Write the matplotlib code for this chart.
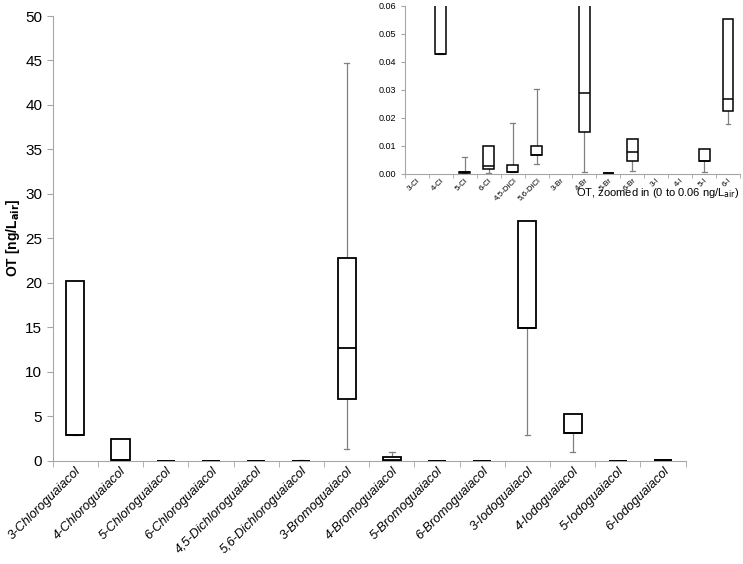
import matplotlib
matplotlib.use("Agg")
import matplotlib.pyplot as plt
import numpy as np

plt.rcParams['font.family'] = ['Liberation Sans', 'DejaVu Sans']

# compound names (main axis) and abbreviations (inset)
names = ['3-Chloroguaiacol', '4-Chloroguaiacol', '5-Chloroguaiacol', '6-Chloroguaiacol',
         '4,5-Dichloroguaiacol', '5,6-Dichloroguaiacol', '3-Bromoguaiacol', '4-Bromoguaiacol',
         '5-Bromoguaiacol', '6-Bromoguaiacol', '3-Iodoguaiacol', '4-Iodoguaiacol',
         '5-Iodoguaiacol', '6-Iodoguaiacol']
short = ['3-Cl', '4-Cl', '5-Cl', '6-Cl', '4,5-DiCl', '5,6-DiCl', '3-Br', '4-Br',
         '5-Br', '6-Br', '3-I', '4-I', '5-I', '6-I']

# OT in ng/L air
whis_lo = [2.9, 0.043, 0.0002, 0.0003, 0.0006, 0.0035, 1.35, 0.0008, 0.0002, 0.001, 2.9, 1.0, 0.0006, 0.0179]
q1 = [2.9, 0.043, 0.0003, 0.0017, 0.0006, 0.0068, 6.97, 0.015, 0.0003, 0.0045, 14.9, 3.1, 0.0046, 0.0225]
med = [2.9, 0.043, 0.0006, 0.0029, 0.0006, 0.0068, 12.7, 0.0288, 0.0003, 0.008, 14.9, 3.1, 0.0046, 0.0268]
q3 = [20.2, 2.47, 0.0008, 0.0101, 0.0031, 0.0101, 22.75, 0.45, 0.0004, 0.0125, 26.9, 5.25, 0.0088, 0.0552]
whis_hi = [20.2, 2.47, 0.0062, 0.0101, 0.0181, 0.0302, 44.7, 0.98, 0.0004, 0.0125, 26.9, 5.25, 0.0088, 0.0552]

stats = []
for i in range(len(names)):
    stats.append(dict(whislo=whis_lo[i], q1=q1[i], med=med[i], q3=q3[i],
                      whishi=whis_hi[i], fliers=[], label=names[i]))

pos = np.arange(1, len(names) + 1)
axis_grey = '#a6a6a6'

fig = plt.figure(figsize=(7.43, 5.64), dpi=100)


def draw(ax, width, lw, cw):
    # whiskers/caps under the boxes so caps sitting on a box edge disappear
    ax.bxp(stats, positions=pos, widths=width, showfliers=False, patch_artist=True,
           boxprops=dict(facecolor='white', edgecolor='black', linewidth=lw, zorder=3),
           medianprops=dict(color='black', linewidth=lw, zorder=4),
           whiskerprops=dict(color='#808080', linewidth=0.9, zorder=2),
           capprops=dict(color='#808080', linewidth=0.9, zorder=2),
           capwidths=cw)
    ax.set_xlim(0.5, len(names) + 0.5)
    for s in ['top', 'right']:
        ax.spines[s].set_visible(False)
    for s in ['left', 'bottom']:
        ax.spines[s].set_color(axis_grey)
    ax.set_xticks(pos)
    ax.set_xticks(np.arange(0.5, len(names) + 1), minor=True)
    ax.tick_params(axis='x', which='major', length=0)
    ax.tick_params(axis='x', which='minor', length=4, color=axis_grey, direction='out')
    ax.tick_params(axis='y', length=4, color=axis_grey, direction='out')


# main axes
ax = fig.add_axes([0.0709, 0.1832, 0.8520, 0.7884])
draw(ax, 0.4, 1.3, 0.12)
ax.set_ylim(0, 50)
ax.set_yticks(np.arange(0, 51, 5))
ax.tick_params(axis='y', labelsize=11)
ax.set_xticklabels(names, rotation=45, ha='right', rotation_mode='anchor',
                   fontsize=9.3, style='italic')
ax.tick_params(axis='x', which='major', pad=3)
ax.set_ylabel('OT [ng/L$_{\\mathbf{air}}$]', fontsize=10, fontweight='bold')
ax.yaxis.set_label_coords(-0.049, 0.5)

# zoomed-in inset
ins = fig.add_axes([0.545, 0.6915, 0.451, 0.298])
ins.set_facecolor('white')
draw(ins, 0.45, 1.1, 0.2)
ins.set_ylim(0, 0.06)
ins.set_yticks(np.arange(0, 0.061, 0.01))
ins.set_yticklabels(['%.2f' % v for v in np.arange(0, 0.061, 0.01)], fontsize=6.5)
ins.set_xticklabels(short, rotation=45, ha='right', rotation_mode='anchor', fontsize=5.8)
ins.tick_params(axis='x', which='major', pad=2)
ins.tick_params(axis='x', which='minor', length=3)
ins.tick_params(axis='y', length=3)
fig.text(0.995, 0.657, 'OT, zoomed in (0 to 0.06 ng/L$_{\\mathrm{air}}$)',
         ha='right', va='center', fontsize=8)

fig.savefig('out.png', dpi=100)
